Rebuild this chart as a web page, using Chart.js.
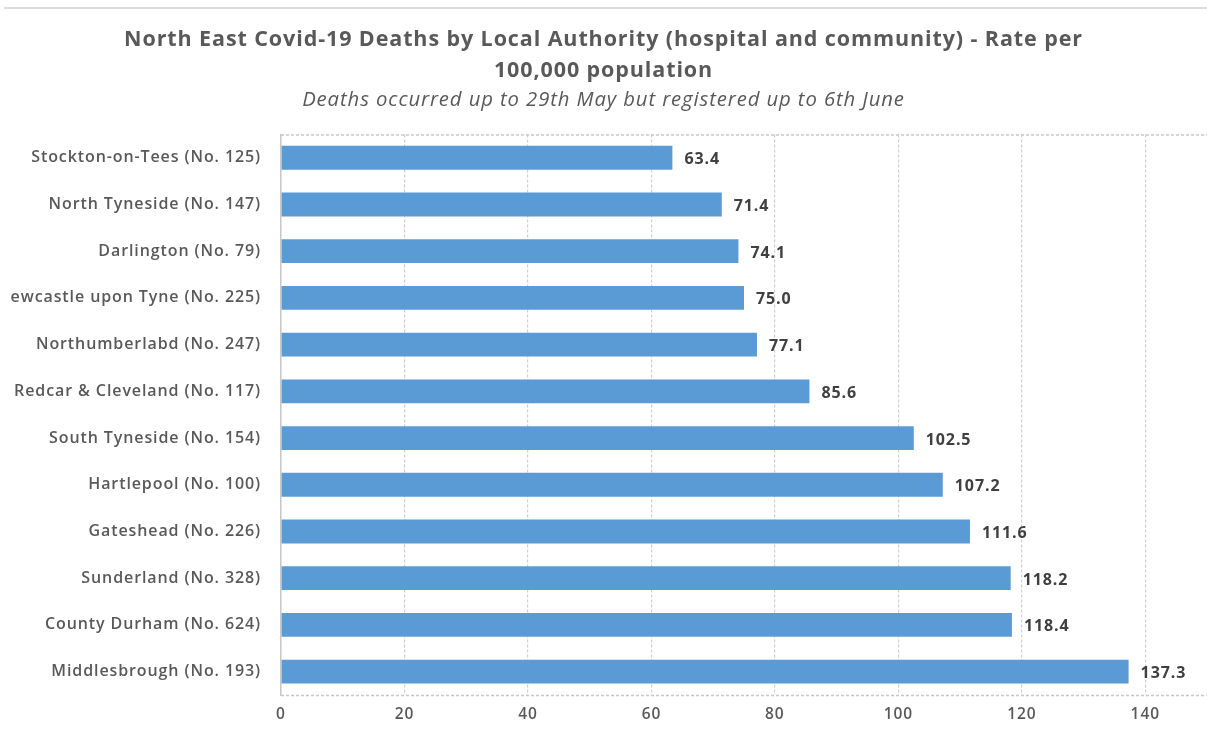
<!DOCTYPE html>
<html>
<head>
<meta charset="utf-8">
<script src="https://cdn.jsdelivr.net/npm/chart.js@4.4.1/dist/chart.umd.min.js"></script>
<style>
  html, body { margin: 0; padding: 0; background: #fff; overflow: hidden; }
  #wrap { position: relative; width: 1207px; height: 729px; }
  #rule { position: absolute; left: 4px; right: 0; top: 7px; height: 2px; background: #dcdcdc; }
  canvas { display: block; }
</style>
</head>
<body>
<div id="wrap">
  <div id="rule"></div>
  <canvas id="chart" width="1207" height="729"></canvas>
</div>
<script>
const authorities = [
  'Stockton-on-Tees (No. 125)',
  'North Tyneside (No. 147)',
  'Darlington (No. 79)',
  'ewcastle upon Tyne (No. 225)',
  'Northumberlabd (No. 247)',
  'Redcar & Cleveland (No. 117)',
  'South Tyneside (No. 154)',
  'Hartlepool (No. 100)',
  'Gateshead (No. 226)',
  'Sunderland (No. 328)',
  'County Durham (No. 624)',
  'Middlesbrough (No. 193)'
];
const ratePer100k = [63.4, 71.4, 74.1, 75.0, 77.1, 85.6, 102.5, 107.2, 111.6, 118.2, 118.4, 137.3];
const xTicks = [0, 20, 40, 60, 80, 100, 120, 140];

const FONT = '"Open Sans", Lato, sans-serif';

// a little extra tracking on every piece of text
const tracking = {
  id: 'tracking',
  beforeUpdate(chart) { chart.ctx.letterSpacing = '0.9px'; },
  beforeDraw(chart) { chart.ctx.letterSpacing = '0.9px'; }
};

// value labels just past the end of each bar
const barValues = {
  id: 'barValues',
  afterDatasetsDraw(chart) {
    const ctx = chart.ctx;
    const meta = chart.getDatasetMeta(0);
    ctx.save();
    ctx.font = 'bold 16px ' + FONT;
    ctx.fillStyle = '#404040';
    ctx.textAlign = 'left';
    ctx.textBaseline = 'middle';
    meta.data.forEach((bar, i) => {
      ctx.fillText(ratePer100k[i].toFixed(1), bar.x + 12, bar.y + 2);
    });
    ctx.restore();
  }
};

// dashed frame along the top and bottom of the plot
const plotFrame = {
  id: 'plotFrame',
  beforeDatasetsDraw(chart) {
    const { ctx, chartArea: a } = chart;
    ctx.save();
    ctx.strokeStyle = '#c8c8c8';
    ctx.lineWidth = 1.5;
    ctx.setLineDash([3, 2]);
    ctx.beginPath();
    ctx.moveTo(a.left, a.top + 0.5);
    ctx.lineTo(a.right, a.top + 0.5);
    ctx.moveTo(a.left, a.bottom + 0.5);
    ctx.lineTo(a.right, a.bottom + 0.5);
    ctx.stroke();
    ctx.restore();
  }
};

new Chart(document.getElementById('chart'), {
  type: 'bar',
  data: {
    labels: authorities,
    datasets: [{
      data: ratePer100k,
      backgroundColor: '#5b9bd5',
      borderColor: '#5b9bd5',
      borderWidth: 0,
      barPercentage: 0.51,
      categoryPercentage: 1.0
    }]
  },
  options: {
    indexAxis: 'y',
    responsive: false,
    animation: false,
    layout: { padding: 0 },
    plugins: {
      legend: { display: false },
      tooltip: { enabled: false },
      title: {
        display: true,
        text: ['North East Covid-19 Deaths by Local Authority (hospital and community) - Rate per', '100,000 population'],
        color: '#595959',
        font: { family: FONT, size: 21.5, weight: 'bold', lineHeight: 1.42 },
        padding: { top: 25, bottom: 2 }
      },
      subtitle: {
        display: true,
        text: 'Deaths occurred up to 29th May but registered up to 6th June',
        color: '#595959',
        font: { family: FONT, size: 20.3, style: 'italic', lineHeight: 1.1 },
        padding: { top: 1, bottom: 23 }
      }
    },
    scales: {
      x: {
        min: 0,
        max: 150,
        afterBuildTicks(scale) {
          scale.ticks = xTicks.map(v => ({ value: v }));
        },
        afterFit(scale) { scale.height = 34; },
        grid: {
          color: '#cfcfcf',
          lineWidth: 1.2,
          drawTicks: false
        },
        border: { display: false, dash: [3, 2] },
        ticks: {
          color: '#595959',
          font: { family: FONT, size: 15.5, weight: '600' },
          padding: 10
        }
      },
      y: {
        afterFit(scale) { scale.width = 281; },
        grid: { drawOnChartArea: false, drawTicks: false },
        border: { display: true, color: '#c8c8c8', width: 1.5, dash: [3, 2] },
        ticks: {
          color: '#595959',
          font: { family: FONT, size: 16, weight: '600' },
          padding: 20
        }
      }
    }
  },
  plugins: [tracking, plotFrame, barValues]
});
</script>
</body>
</html>
